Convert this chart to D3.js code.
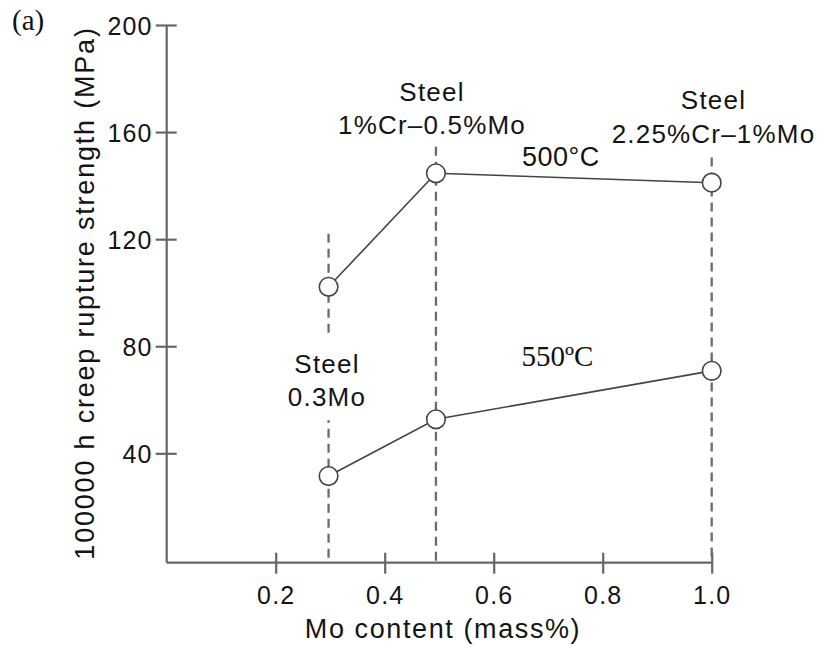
<!DOCTYPE html>
<html>
<head>
<meta charset="utf-8">
<script src="https://cdn.jsdelivr.net/npm/d3@7"></script>
<style>
  html, body { margin: 0; padding: 0; background: #fff; }
  svg { display: block; }
  .sans { font-family: "Liberation Sans", Arial, Helvetica, sans-serif; fill: #141414; }
  .serif { font-family: "Liberation Serif", "Times New Roman", serif; fill: #111; }
</style>
</head>
<body>
<svg id="chart" width="822" height="647"></svg>
<script>
// Mo content (mass%) of each steel grade
const moContent = [0.297, 0.494, 1.0];
// 100000 h creep rupture strength (MPa)
const strength500 = [102.2, 144.6, 141.1];
const strength550 = [31.5, 52.7, 70.8];
// upper end (MPa) of the vertical guide drawn at each grade
const guideTop = [122, 154.5, 150.5];
const gradeNames = [["Steel", "0.3Mo"], ["Steel", "1%Cr\u20130.5%Mo"], ["Steel", "2.25%Cr\u20131%Mo"]];
const xTicks = [0.2, 0.4, 0.6, 0.8, 1.0];
const yTicks = [40, 80, 120, 160, 200];

const svg = d3.select("#chart");
const axisGray = "#666";
const x = d3.scaleLinear().domain([0, 1]).range([166.7, 711.7]);
const y = d3.scaleLinear().domain([0, 200]).range([560.4, 25]);
const baseY = 562.7;

// vertical dashed guides
svg.append("g").selectAll("line").data(moContent).join("line")
  .attr("x1", d => x(d)).attr("x2", d => x(d))
  .attr("y1", (d, i) => y(guideTop[i])).attr("y2", baseY)
  .attr("stroke", "#6c6c6c").attr("stroke-width", 2.3)
  .attr("stroke-dasharray", "9,6");

// axes
const xAxis = d3.axisBottom(x).tickValues(xTicks).tickFormat(d3.format(".1f"))
  .tickSizeInner(11).tickSizeOuter(0).tickPadding(14);
const gx = svg.append("g").attr("transform", `translate(0,${baseY})`).call(xAxis);
gx.selectAll(".tick line").attr("y1", -10);
const yAxis = d3.axisLeft(y).tickValues(yTicks).tickFormat(d3.format("d"))
  .tickSizeInner(11).tickSizeOuter(0).tickPadding(3);
const gy = svg.append("g").attr("transform", `translate(${x(0)},0)`).call(yAxis);
gy.selectAll(".tick line").attr("x1", 10);
gy.select(".domain").attr("d", `M0,${y(200)}V${baseY}`);
gx.select(".domain").attr("d", `M${x(0)},0H${x(1)}`);
[gx, gy].forEach(g => {
  g.selectAll(".domain, .tick line").attr("stroke", axisGray).attr("stroke-width", 2.2);
  g.selectAll(".tick text").attr("class", "sans").attr("fill", "#141414")
    .style("font-size", "25px").style("letter-spacing", "1.2px");
});
gx.selectAll(".tick text").attr("dy", "0.71em").attr("y", 24);
gy.selectAll(".tick text").attr("dy", "0.36em");

// axis titles
svg.append("text").attr("class", "sans")
  .attr("x", 443).attr("y", 638).attr("text-anchor", "middle")
  .style("font-size", "27px").style("letter-spacing", "1.6px")
  .text("Mo content (mass%)");
svg.append("text").attr("class", "sans")
  .attr("transform", "translate(93.5,293) rotate(-90)").attr("text-anchor", "middle")
  .style("font-size", "27px").style("letter-spacing", "1.8px")
  .text("100000 h creep rupture strength (MPa)");

// grade labels
const labelPos = [[327, 372.7], [432, 100.7], [713.5, 109.3]];
gradeNames.forEach((lines, i) => {
  const g = svg.append("g");
  const t = g.append("text").attr("class", "sans").attr("text-anchor", "middle")
    .style("font-size", "26px").style("letter-spacing", "1.2px");
  lines.forEach((s, j) => {
    t.append("tspan").attr("x", labelPos[i][0]).attr("y", labelPos[i][1] + j * 33.5).text(s);
  });
  if (i === 0) {
    const b = t.node().getBBox();
    g.insert("rect", "text").attr("x", b.x - 4).attr("y", b.y - 12)
      .attr("width", b.width + 8).attr("height", b.height + 20).attr("fill", "#fff");
  }
});

// series lines with open markers
const line = d3.line().x((d, i) => x(moContent[i])).y(d => y(d));
[strength500, strength550].forEach(s => {
  svg.append("path").datum(s).attr("d", line)
    .attr("fill", "none").attr("stroke", "#444").attr("stroke-width", 1.6);
  svg.append("g").selectAll("circle").data(s).join("circle")
    .attr("cx", (d, i) => x(moContent[i])).attr("cy", d => y(d)).attr("r", 9.3)
    .attr("fill", "#fff").attr("stroke", "#444").attr("stroke-width", 1.6);
});

// temperature labels
svg.append("text").attr("class", "sans").attr("x", 522).attr("y", 165.5)
  .style("font-size", "27px").style("letter-spacing", "0.5px").text("500\u00b0C");
svg.append("text").attr("class", "serif").attr("x", 521.5).attr("y", 366)
  .style("font-size", "29px").text("550\u00baC");

// panel tag
svg.append("text").attr("class", "serif").attr("x", 12).attr("y", 30)
  .style("font-size", "29px").text("(a)");
</script>
</body>
</html>
